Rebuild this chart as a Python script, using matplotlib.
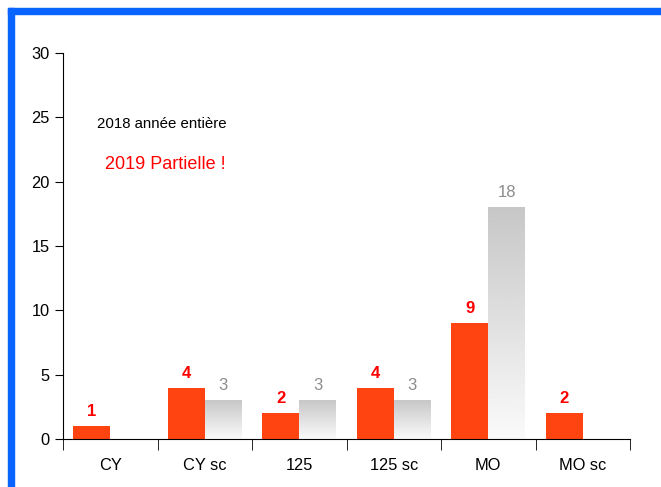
import numpy as np
import matplotlib.pyplot as plt
from matplotlib.patches import Rectangle

plt.rcParams['font.family'] = ['Liberation Sans', 'DejaVu Sans']

categories = ['CY', 'CY sc', '125', '125 sc', 'MO', 'MO sc']
vals_2019 = [1, 4, 2, 4, 9, 2]
vals_2018 = [None, 3, 3, 3, 18, None]

red = '#ff4411'
bar_w = 0.39

fig = plt.figure(figsize=(6.61, 4.87), dpi=100)
ax = fig.add_axes([63/661, 48/487, 567/661, 386/487])

x = np.arange(len(categories))

# 2019 bars (red)
ax.bar(x - bar_w/2, vals_2019, width=bar_w, color=red, zorder=2)
for xi, v in zip(x, vals_2019):
    ax.annotate(str(v), (xi - bar_w/2, v), xytext=(0, 5), textcoords='offset points',
                ha='center', va='bottom', color='#ff0000', fontsize=12, fontweight='bold')

# 2018 bars (gray gradient)
grad = np.linspace(0.98, 0.78, 256).reshape(-1, 1)
for xi, v in zip(x, vals_2018):
    if v is None:
        continue
    ax.imshow(grad, cmap='gray', vmin=0, vmax=1, origin='lower', aspect='auto',
              extent=[xi, xi + bar_w, 0, v], zorder=2)
    ax.annotate(str(v), (xi + bar_w/2, v), xytext=(0, 5), textcoords='offset points',
                ha='center', va='bottom', color='#8c8c8c', fontsize=12)

ax.set_xlim(-0.5, len(categories) - 0.5)
ax.set_ylim(0, 30)
ax.set_yticks(range(0, 31, 5))
ax.set_xticks(x)
ax.set_xticklabels(categories)
ax.set_xticks(np.arange(-0.5, len(categories)), minor=True)
ax.tick_params(axis='x', which='major', length=0, pad=14, labelsize=11.8)
ax.tick_params(axis='x', which='minor', length=8, direction='out')
ax.tick_params(axis='y', length=6, labelsize=11.8)
for s in ['top', 'right']:
    ax.spines[s].set_visible(False)

ax.text(0.06, 0.816, '2018 année entière', transform=ax.transAxes, fontsize=10.8,
        va='center')
ax.text(0.074, 0.71, '2019 Partielle !', transform=ax.transAxes, fontsize=13,
        color='#ff0000', va='center')

# blue frame on top and left
fig.patches.append(Rectangle((8/661, 0), 6/661, 479/487, transform=fig.transFigure,
                             color='#0a64ff', zorder=0))
fig.patches.append(Rectangle((8/661, 473/487), 653/661, 6/487, transform=fig.transFigure,
                             color='#0a64ff', zorder=0))

fig.savefig('out.png', dpi=100)
